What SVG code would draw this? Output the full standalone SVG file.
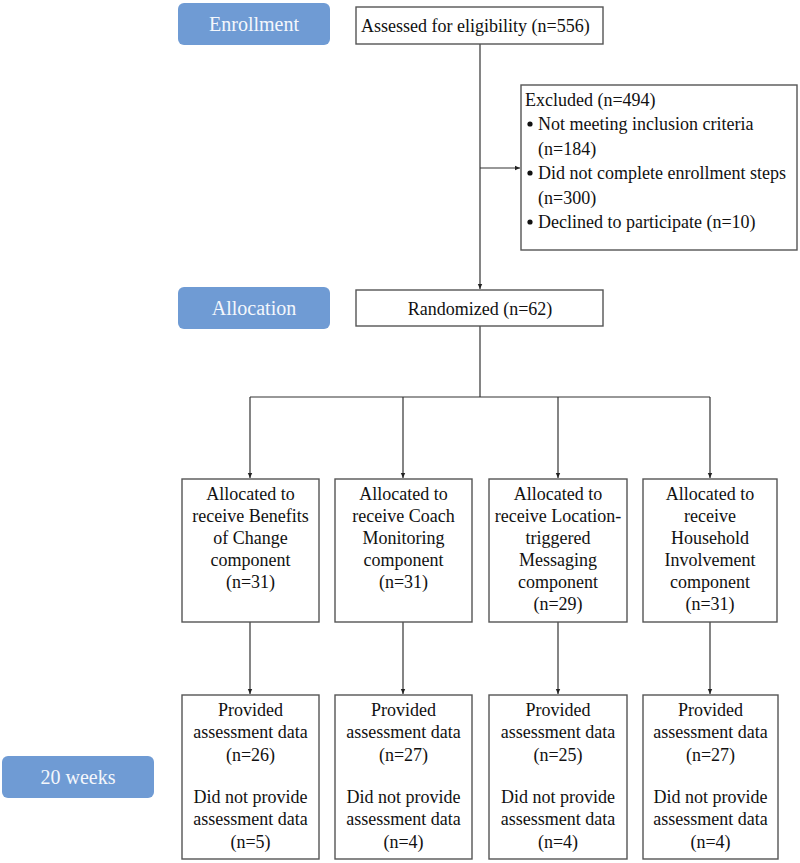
<svg xmlns="http://www.w3.org/2000/svg" width="800" height="863" viewBox="0 0 800 863">
<defs>
<marker id="ah" markerWidth="6" markerHeight="6" refX="5" refY="3" orient="auto" markerUnits="userSpaceOnUse">
<path d="M0,0.8 L5,3 L0,5.2 Z" fill="#222"/>
</marker>
<style>
.pill{fill:#6f9bd4;}
.pt{font-family:'Liberation Serif','Tinos','DejaVu Serif',serif;font-size:20px;fill:#f4f7fc;text-anchor:middle;}
.box{fill:#fff;stroke:#555;stroke-width:1.4;}
.t{font-family:'Liberation Serif','Tinos','DejaVu Serif',serif;font-size:18px;fill:#111;}
.c{text-anchor:middle;}
.ln{stroke:#333;stroke-width:1.2;fill:none;}
.arr{marker-end:url(#ah);}
</style>
</defs>
<g id="stage-enrollment">
<rect class="pill" x="178" y="3" width="152" height="42" rx="6"/>
<text class="pt" x="254" y="31">Enrollment</text>
</g>
<g id="stage-allocation">
<rect class="pill" x="178" y="287" width="152" height="42" rx="6"/>
<text class="pt" x="254" y="315">Allocation</text>
</g>
<g id="stage-20weeks">
<rect class="pill" x="2" y="756" width="152" height="42" rx="6"/>
<text class="pt" x="78" y="784">20 weeks</text>
</g>
<g id="connectors">
<line class="ln arr" x1="480" y1="44" x2="480" y2="289"/>
<line class="ln arr" x1="480" y1="168" x2="520" y2="168"/>
<line class="ln" x1="480" y1="326" x2="480" y2="397"/>
<line class="ln" x1="250" y1="397" x2="710" y2="397"/>
<line class="ln arr" x1="250" y1="397" x2="250" y2="478"/>
<line class="ln arr" x1="403" y1="397" x2="403" y2="478"/>
<line class="ln arr" x1="558" y1="397" x2="558" y2="478"/>
<line class="ln arr" x1="710" y1="397" x2="710" y2="478"/>
<line class="ln arr" x1="250" y1="622" x2="250" y2="694"/>
<line class="ln arr" x1="403" y1="622" x2="403" y2="694"/>
<line class="ln arr" x1="558" y1="622" x2="558" y2="694"/>
<line class="ln arr" x1="710" y1="622" x2="710" y2="694"/>
</g>
<g id="assessed">
<rect class="box" x="356" y="7" width="247" height="37"/>
<text class="t" x="361" y="32">Assessed for eligibility (n=556)</text>
</g>
<g id="excluded">
<rect class="box" x="521" y="85" width="276" height="165"/>
<text class="t" x="525" y="106">Excluded (n=494)</text>
<circle cx="530" cy="124" r="2.6" fill="#111"/>
<text class="t" x="538" y="130">Not meeting inclusion criteria</text>
<text class="t" x="538" y="155">(n=184)</text>
<circle cx="530" cy="173" r="2.6" fill="#111"/>
<text class="t" x="538" y="179">Did not complete enrollment steps</text>
<text class="t" x="538" y="204">(n=300)</text>
<circle cx="530" cy="222" r="2.6" fill="#111"/>
<text class="t" x="538" y="228">Declined to participate (n=10)</text>
</g>
<g id="randomized">
<rect class="box" x="356" y="290" width="247" height="36"/>
<text class="t c" x="480" y="315">Randomized (n=62)</text>
</g>
<g id="alloc-benefits">
<rect class="box" x="182" y="479" width="137" height="143"/>
<text class="t c" x="250.5" y="500">Allocated to</text>
<text class="t c" x="250.5" y="522">receive Benefits</text>
<text class="t c" x="250.5" y="544">of Change</text>
<text class="t c" x="250.5" y="566">component</text>
<text class="t c" x="250.5" y="588">(n=31)</text>
</g>
<g id="alloc-coach">
<rect class="box" x="335" y="479" width="137" height="143"/>
<text class="t c" x="403.5" y="500">Allocated to</text>
<text class="t c" x="403.5" y="522">receive Coach</text>
<text class="t c" x="403.5" y="544">Monitoring</text>
<text class="t c" x="403.5" y="566">component</text>
<text class="t c" x="403.5" y="588">(n=31)</text>
</g>
<g id="alloc-location">
<rect class="box" x="489" y="479" width="138" height="143"/>
<text class="t c" x="558" y="500">Allocated to</text>
<text class="t c" x="558" y="522">receive Location-</text>
<text class="t c" x="558" y="544">triggered</text>
<text class="t c" x="558" y="566">Messaging</text>
<text class="t c" x="558" y="588">component</text>
<text class="t c" x="558" y="610">(n=29)</text>
</g>
<g id="alloc-household">
<rect class="box" x="643" y="479" width="134" height="143"/>
<text class="t c" x="710" y="500">Allocated to</text>
<text class="t c" x="710" y="522">receive</text>
<text class="t c" x="710" y="544">Household</text>
<text class="t c" x="710" y="566">Involvement</text>
<text class="t c" x="710" y="588">component</text>
<text class="t c" x="710" y="610">(n=31)</text>
</g>
<g id="followup-benefits">
<rect class="box" x="182" y="695" width="137" height="164"/>
<text class="t c" x="250.5" y="716">Provided</text>
<text class="t c" x="250.5" y="738">assessment data</text>
<text class="t c" x="250.5" y="761">(n=26)</text>
<text class="t c" x="250.5" y="803">Did not provide</text>
<text class="t c" x="250.5" y="825">assessment data</text>
<text class="t c" x="250.5" y="848">(n=5)</text>
</g>
<g id="followup-coach">
<rect class="box" x="335" y="695" width="137" height="164"/>
<text class="t c" x="403.5" y="716">Provided</text>
<text class="t c" x="403.5" y="738">assessment data</text>
<text class="t c" x="403.5" y="761">(n=27)</text>
<text class="t c" x="403.5" y="803">Did not provide</text>
<text class="t c" x="403.5" y="825">assessment data</text>
<text class="t c" x="403.5" y="848">(n=4)</text>
</g>
<g id="followup-location">
<rect class="box" x="489" y="695" width="138" height="164"/>
<text class="t c" x="558" y="716">Provided</text>
<text class="t c" x="558" y="738">assessment data</text>
<text class="t c" x="558" y="761">(n=25)</text>
<text class="t c" x="558" y="803">Did not provide</text>
<text class="t c" x="558" y="825">assessment data</text>
<text class="t c" x="558" y="848">(n=4)</text>
</g>
<g id="followup-household">
<rect class="box" x="643" y="695" width="135" height="164"/>
<text class="t c" x="710.5" y="716">Provided</text>
<text class="t c" x="710.5" y="738">assessment data</text>
<text class="t c" x="710.5" y="761">(n=27)</text>
<text class="t c" x="710.5" y="803">Did not provide</text>
<text class="t c" x="710.5" y="825">assessment data</text>
<text class="t c" x="710.5" y="848">(n=4)</text>
</g>
</svg>
